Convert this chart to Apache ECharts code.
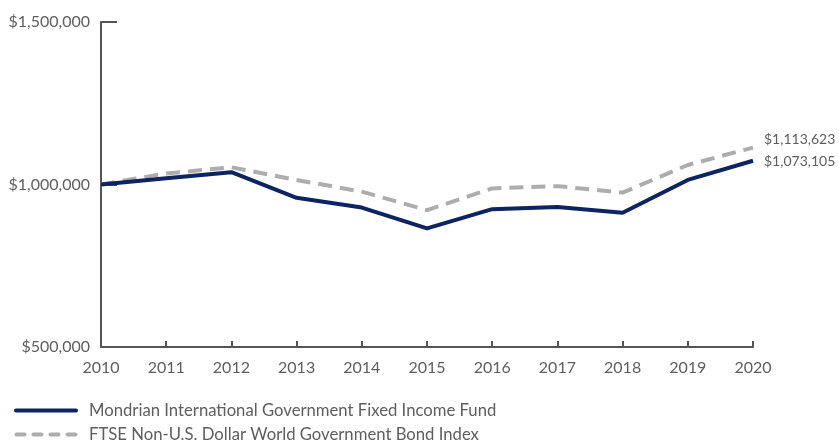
<!DOCTYPE html>
<html>
<head>
<meta charset="utf-8">
<script src="https://cdn.jsdelivr.net/npm/echarts@6/dist/echarts.min.js"></script>
<style>
html,body{margin:0;padding:0;background:#fff;}
#chart{width:839px;height:448px;}
</style>
</head>
<body>
<div id="chart"></div>
<script>
var years = ['2010','2011','2012','2013','2014','2015','2016','2017','2018','2019','2020'];
var fundName = 'Mondrian International Government Fixed Income Fund';
var indexName = 'FTSE Non-U.S. Dollar World Government Bond Index';
var fundValues = [1000000, 1019000, 1038000, 959000, 929000, 865000, 924000, 931000, 913000, 1014000, 1073105];
var indexValues = [1000000, 1034000, 1053000, 1014000, 978000, 921000, 988000, 995000, 975000, 1060000, 1113623];
var yMin = 500000, yMax = 1500000, yStep = 500000;

function money(v){ return '$' + Math.round(v).toLocaleString('en-US'); }

var chart = echarts.init(document.getElementById('chart'));
var font = 'Lato, "Noto Sans", sans-serif';
var txt = '#5e5e5e';
var solidIcon = 'path://M2,0h60a2,2 0 0 1 0,4h-60a2,2 0 0 1 0,-4z';
var dashIcon = 'path://M2,0h8a2,2 0 0 1 0,4h-8a2,2 0 0 1 0,-4zM19,0h8a2,2 0 0 1 0,4h-8a2,2 0 0 1 0,-4zM36,0h8a2,2 0 0 1 0,4h-8a2,2 0 0 1 0,-4zM53,0h8a2,2 0 0 1 0,4h-8a2,2 0 0 1 0,-4z';
chart.setOption({
  animation: false,
  textStyle: { fontFamily: font },
  grid: { left: 101, right: 86, top: 22, bottom: 101 },
  legend: {
    orient: 'vertical',
    left: 14, top: 402, padding: 0,
    itemWidth: 64, itemHeight: 4, itemGap: 7,
    itemStyle: { borderWidth: 0 },
    lineStyle: { width: 0 },
    textStyle: { color: txt, fontSize: 16.7, fontFamily: font, padding: [0, 0, 0, 6] },
    data: [{ name: fundName, icon: solidIcon }, { name: indexName, icon: dashIcon }]
  },
  xAxis: {
    type: 'category', data: years, boundaryGap: false,
    axisLine: { lineStyle: { color: '#555', width: 2 } },
    axisTick: { inside: true, length: 6, alignWithLabel: true, lineStyle: { color: '#555', width: 2 } },
    axisLabel: { color: txt, fontSize: 16, margin: 13, fontFamily: font }
  },
  yAxis: {
    type: 'value', min: yMin, max: yMax, interval: yStep,
    axisLine: { show: true, lineStyle: { color: '#555', width: 2 } },
    axisTick: { show: true, inside: true, length: 16, lineStyle: { color: '#555', width: 2 } },
    splitLine: { show: false },
    axisLabel: { color: txt, fontSize: 16, margin: 11, fontFamily: font, formatter: money }
  },
  series: [
    {
      name: indexName, type: 'line', data: indexValues, symbol: 'none', z: 2,
      lineStyle: { color: '#adadb0', width: 4, type: [14, 8] },
      itemStyle: { color: '#adadb0' },
      endLabel: { show: true, formatter: function(p){ return money(p.value); }, color: txt, fontSize: 14, distance: 11, offset: [0, -8], fontFamily: font }
    },
    {
      name: fundName, type: 'line', data: fundValues, symbol: 'none', z: 3,
      lineStyle: { color: '#0c2461', width: 4 },
      itemStyle: { color: '#0c2461' },
      endLabel: { show: true, formatter: function(p){ return money(p.value); }, color: txt, fontSize: 14, distance: 11, offset: [0, 1], fontFamily: font }
    }
  ]
});
</script>
</body>
</html>
